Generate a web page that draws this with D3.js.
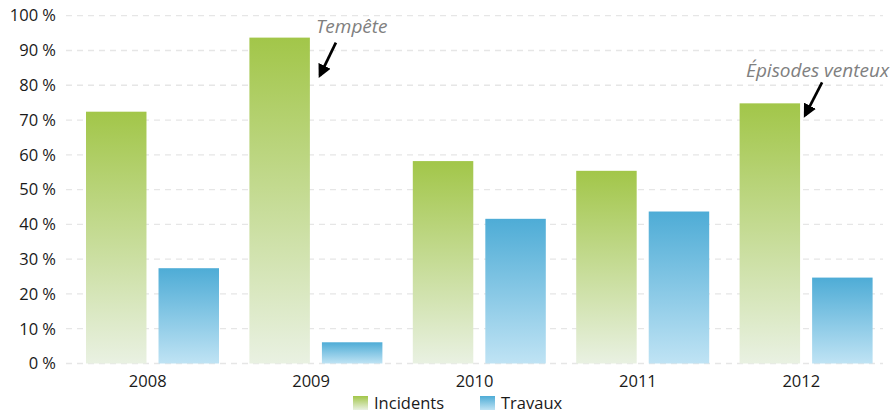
<!DOCTYPE html>
<html>
<head>
<meta charset="utf-8">
<script src="https://cdn.jsdelivr.net/npm/d3@7"></script>
<style>
  body { margin: 0; background: #fff; }
  svg text { font-family: "Open Sans", "Noto Sans", sans-serif; }
</style>
</head>
<body>
<div id="chart"></div>
<script>
// data
var years = ["2008", "2009", "2010", "2011", "2012"];
var seriesNames = ["Incidents", "Travaux"];
var incidents = [72.4, 93.7, 58.2, 55.4, 74.8];
var travaux = [27.4, 6.1, 41.6, 43.7, 24.7];
var yTicks = [0, 10, 20, 30, 40, 50, 60, 70, 80, 90, 100];
var notes = [
  { year: "2009", text: "Tempête" },
  { year: "2012", text: "Épisodes venteux" }
];

var svgWidth = 893, svgHeight = 414;
var margin = { top: 15.7, right: 10, bottom: 50.5, left: 66 };
var chartWidth = 883 - margin.left;
var chartHeight = svgHeight - margin.top - margin.bottom;

var svg = d3.select("#chart").append("svg")
  .attr("width", svgWidth)
  .attr("height", svgHeight);

// gradients
var defs = svg.append("defs");
function addGrad(id, top, bottom) {
  var g = defs.append("linearGradient").attr("id", id)
    .attr("x1", 0).attr("y1", 0).attr("x2", 0).attr("y2", 1);
  g.append("stop").attr("offset", "0%").attr("stop-color", top);
  g.append("stop").attr("offset", "100%").attr("stop-color", bottom);
}
addGrad("gInc", "#a2c649", "#e9f1e2");
addGrad("gTra", "#4eacd6", "#bfe3f4");
var fills = { Incidents: "url(#gInc)", Travaux: "url(#gTra)" };

var chart = svg.append("g")
  .attr("transform", `translate(${margin.left}, ${margin.top})`);

// scales
var x0 = d3.scaleBand().domain(years).range([0, chartWidth]);
var x1 = d3.scaleBand().domain(seriesNames).range([20, 153]).paddingInner(0.166);
var y = d3.scaleLinear().domain([0, 100]).range([chartHeight, 0]);

// grid
chart.append("g").selectAll("line")
  .data(yTicks)
  .enter().append("line")
  .attr("x1", 0).attr("x2", chartWidth)
  .attr("y1", d => y(d)).attr("y2", d => y(d))
  .attr("stroke", "#e6e6e6")
  .attr("stroke-width", 1.3)
  .attr("stroke-dasharray", "6,5");

// y axis
var yAxis = d3.axisLeft(y).tickValues(yTicks).tickSize(0).tickPadding(10)
  .tickFormat(d => d + " %");
chart.append("g").call(yAxis)
  .call(g => g.select(".domain").remove())
  .selectAll("text")
  .attr("font-size", "16.5px")
  .attr("fill", "#1a1a1a")
  .attr("font-family", "'Open Sans', sans-serif");

// x axis
var xAxis = d3.axisBottom(x0).tickSize(0).tickPadding(12);
chart.append("g")
  .attr("transform", `translate(0, ${chartHeight})`)
  .call(xAxis)
  .call(g => g.select(".domain").remove())
  .selectAll("text")
  .attr("font-size", "16.5px")
  .attr("fill", "#1a1a1a")
  .attr("font-family", "'Open Sans', sans-serif");

// bars
var rows = years.map((yr, i) => ({ year: yr, values: [
  { key: "Incidents", value: incidents[i] },
  { key: "Travaux", value: travaux[i] }
]}));

var groups = chart.selectAll(".grp")
  .data(rows)
  .enter().append("g")
  .attr("class", "grp")
  .attr("transform", d => `translate(${x0(d.year)}, 0)`);

groups.selectAll("rect")
  .data(d => d.values)
  .enter().append("rect")
  .attr("x", d => x1(d.key))
  .attr("width", x1.bandwidth())
  .attr("y", d => y(d.value))
  .attr("height", d => chartHeight - y(d.value))
  .attr("fill", d => fills[d.key]);

// annotations
defs.append("marker").attr("id", "arrow")
  .attr("viewBox", "0 0 10 10").attr("refX", 8).attr("refY", 5)
  .attr("markerWidth", 5).attr("markerHeight", 5)
  .attr("orient", "auto-start-reverse")
  .append("path").attr("d", "M0,0 L10,5 L0,10 z").attr("fill", "#000");

var noteOffsets = {
  "2009": { tx: 6, ty: -5, ax1: 26, ay1: 5, ax2: 10, ay2: 38 },
  "2012": { tx: -54, ty: -26, ax1: 22, ay1: -21, ax2: 5, ay2: 12 }
};
notes.forEach(function(n) {
  var i = years.indexOf(n.year);
  var bx = x0(n.year) + x1("Incidents") + x1.bandwidth();
  var by = y(incidents[i]);
  var o = noteOffsets[n.year];
  chart.append("text")
    .attr("x", bx + o.tx).attr("y", by + o.ty)
    .attr("font-size", "19px")
    .attr("font-style", "italic")
    .attr("fill", "#808080")
    .text(n.text);
  chart.append("line")
    .attr("x1", bx + o.ax1).attr("y1", by + o.ay1)
    .attr("x2", bx + o.ax2).attr("y2", by + o.ay2)
    .attr("stroke", "#000").attr("stroke-width", 2.7)
    .attr("marker-end", "url(#arrow)");
});

// legend
var legend = svg.append("g").attr("transform", "translate(353, 396)");
var legendX = [0, 127];
seriesNames.forEach(function(s, i) {
  var lg = legend.append("g").attr("transform", `translate(${legendX[i]}, 0)`);
  lg.append("rect").attr("width", 15).attr("height", 14).attr("fill", fills[s]);
  lg.append("text").attr("x", 21).attr("y", 12.5)
    .attr("font-size", "16.5px").attr("fill", "#1a1a1a").text(s);
});
</script>
</body>
</html>
